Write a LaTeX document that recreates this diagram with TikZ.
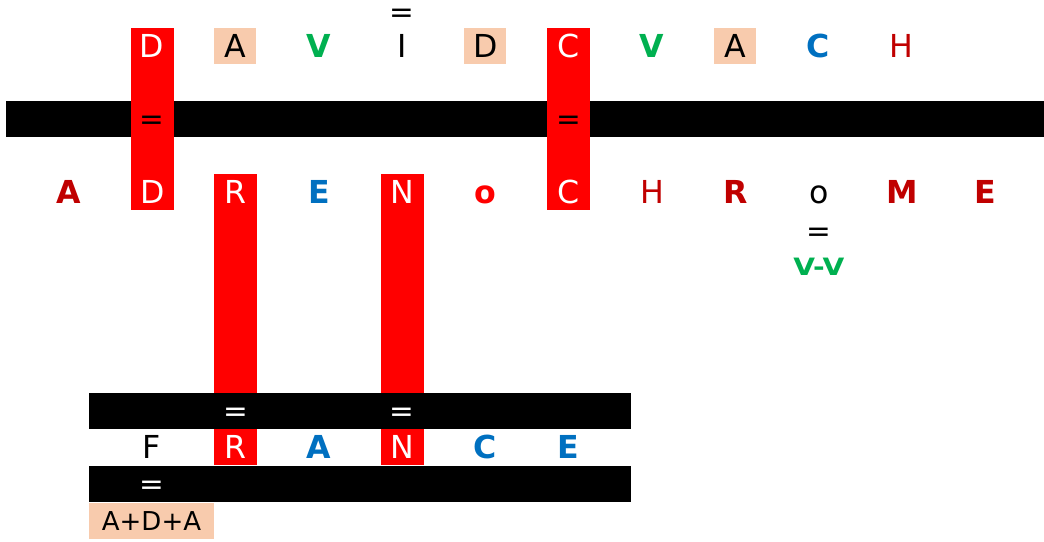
\documentclass[tikz,border=0pt]{standalone}
\usepackage{fontspec}
\setmainfont{DejaVu Sans}
\usetikzlibrary{positioning, fit, backgrounds}
\definecolor{mot-red}{RGB}{255,0,0}
\definecolor{mot-peach}{RGB}{248,203,173}
\definecolor{mot-green}{RGB}{0,176,80}
\definecolor{mot-blue}{RGB}{0,112,192}
\definecolor{mot-dark}{RGB}{192,0,0}

\begin{document}
\begin{tikzpicture}[
    node distance=2.083cm, on grid,
    letter/.style={minimum width=1.05cm, minimum height=0.9cm, inner sep=0pt, text height=16.4pt, text depth=0pt, font=\fontsize{22.5}{26}\selectfont},
    hit/.style={letter, fill=mot-red, text=white},
    same/.style={letter, fill=mot-peach},
    bgreen/.style={letter, text=mot-green, font=\fontsize{22.5}{26}\selectfont\bfseries},
    bblue/.style={letter, text=mot-blue, font=\fontsize{22.5}{26}\selectfont\bfseries},
    bdark/.style={letter, text=mot-dark, font=\fontsize{22.5}{26}\selectfont\bfseries},
    bred/.style={letter, text=mot-red, font=\fontsize{22.5}{26}\selectfont\bfseries},
    ndark/.style={letter, text=mot-dark},
    bar/.style={fill=black, inner sep=0pt, minimum height=0.9cm},
    redbar/.style={fill=mot-red, inner sep=0pt},
    eqsign/.style={inner sep=0pt, yshift=-0.1cm, font=\fontsize{21}{24}\selectfont}
]
    \useasboundingbox (0,0) rectangle (26.1,-13.55);

    % DAVID CVACH
    \node[hit] (t1) at (3.8,-1.15) {D};
    \node[same, right=of t1] (t2) {A};
    \node[bgreen, right=of t2] (t3) {V};
    \node[letter, right=of t3] (t4) {I};
    \node[same, right=of t4] (t5) {D};
    \node[hit, right=of t5] (t6) {C};
    \node[bgreen, right=of t6] (t7) {V};
    \node[same, right=of t7] (t8) {A};
    \node[bblue, right=of t8] (t9) {C};
    \node[ndark, right=of t9] (t10) {H};

    % ADRENoCHRoME
    \node[bdark] (b1) at (1.725,-4.8) {A};
    \node[hit, right=of b1] (b2) {D};
    \node[hit, right=of b2] (b3) {R};
    \node[bblue, right=of b3] (b4) {E};
    \node[hit, right=of b4] (b5) {N};
    \node[bred, right=of b5] (b6) {o};
    \node[hit, right=of b6] (b7) {C};
    \node[ndark, right=of b7] (b8) {H};
    \node[bdark, right=of b8] (b9) {R};
    \node[letter, right=of b9] (b10) {o};
    \node[bdark, right=of b10] (b11) {M};
    \node[bdark, right=of b11] (b12) {E};

    % FRANCE
    \node[letter] (f1) at (3.8,-11.175) {F};
    \node[hit, right=of f1] (f2) {R};
    \node[bblue, right=of f2] (f3) {A};
    \node[hit, right=of f3] (f4) {N};
    \node[bblue, right=of f4] (f5) {C};
    \node[bblue, right=of f5] (f6) {E};

    % Barres
    \begin{scope}[on background layer]
        \node[bar, minimum width=25.95cm] (topbar) at (13.125,-2.975) {};
        \node[redbar, fit=(t1)(b2)] (dbar) {};
        \node[redbar, fit=(t6)(b7)] (cbar) {};
        \node[redbar, fit=(b3)(f2)] (rbar) {};
        \node[redbar, fit=(b5)(f4)] (nbar) {};
        \node[bar, minimum width=13.55cm] (lowbar1) at (9.0,-10.275) {};
        \node[bar, minimum width=13.55cm] (lowbar2) at (9.0,-12.1) {};
    \end{scope}

    % Signes egal
    \node[eqsign] (eq1) at (dbar |- topbar) {=};
    \node[eqsign] (eq2) at (cbar |- topbar) {=};
    \node[eqsign, text=white] (eq3) at (rbar |- lowbar1) {=};
    \node[eqsign, text=white] (eq4) at (nbar |- lowbar1) {=};
    \node[eqsign, text=white] (eq5) at (f1 |- lowbar2) {=};
    \node[eqsign, above=0.85cm of t4] (eq6) {=};
    \node[eqsign, below=0.975cm of b10] (eq7) {=};
    \node[below=1.87cm of b10, inner sep=0pt, yscale=0.85, transform shape, text=mot-green, font=\fontsize{20}{23}\selectfont\bfseries] (vv) {V-V};

    \node[same, anchor=north west, minimum width=3.125cm, text height=13.5pt, font=\fontsize{18.5}{21}\selectfont] (ada) at (lowbar2.south west) {A+D+A};
\end{tikzpicture}
\end{document}
